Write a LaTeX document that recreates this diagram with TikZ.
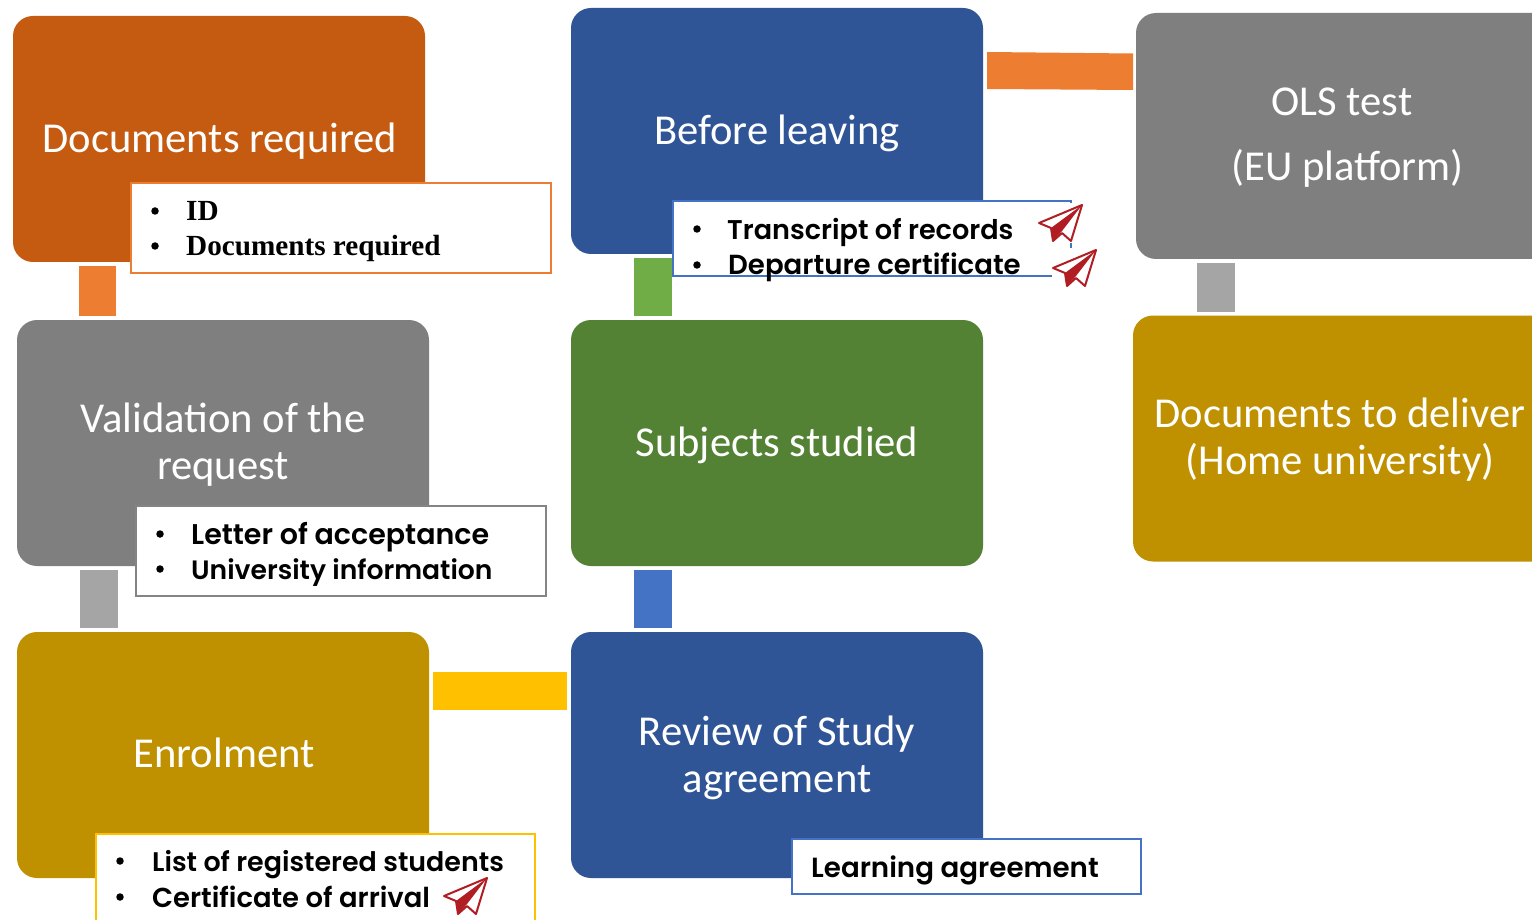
\documentclass[tikz,border=0pt]{standalone}
\usepackage{fontspec}
\setmainfont{Carlito}
\newfontfamily\boxgothic{Poppins SemiBold}
\newfontfamily\boxserif{Liberation Serif}
\definecolor{cblue}{HTML}{2F5597}
\definecolor{cgreen}{HTML}{548235}
\definecolor{cgrey}{HTML}{7F7F7F}
\definecolor{cgold}{HTML}{BF9000}
\definecolor{corange}{HTML}{C55A11}
\definecolor{borange}{HTML}{ED7D31}
\definecolor{bgrey}{HTML}{A5A5A5}
\definecolor{bgreen}{HTML}{70AD47}
\definecolor{bblue}{HTML}{4472C4}
\definecolor{byellow}{HTML}{FFC000}
\definecolor{planered}{HTML}{B01E23}
\tikzset{
 x=1pt,y=-1pt,
 bigbox/.style={rounded corners=20pt,minimum width=#1,minimum height=246pt,inner sep=0pt},
 bigbox/.default=412pt,
 bigtext/.style={text=white,align=center,inner sep=0pt,font=\fontsize{42.6}{47}\selectfont},
 widetext/.style={text=white,align=center,inner sep=0pt,font=\fontsize{42.6}{65}\selectfont},
 bar/.style={inner sep=0pt,fill=#1},
 notebox/.style={draw=#1,fill=white,line width=2pt,inner sep=0pt},
 notegothic/.style={anchor=base west,inner sep=0pt,font=\boxgothic\fontsize{#1}{#1}\selectfont},
 noteserif/.style={anchor=base west,inner sep=0pt,font=\boxserif\bfseries\fontsize{29.2}{29}\selectfont},
 plane/.pic={
  \fill[white] (-44,-2) rectangle (3,38);
  \draw[planered,line width=2pt,line join=round,fill=white] (0,0) -- (-43,18) -- (-31,23) -- (-29,36) -- (-20,28) -- (-11,36) -- cycle;
  \fill[planered] (0,0) -- (-31,23) -- (-29,36) -- (-20,26) -- cycle;
 }
}
\newcommand{\bulletat}[2]{\node[inner sep=0pt,circle,fill=black,minimum size=7.5pt] at (#1,#2) {};}
\begin{document}
\begin{tikzpicture}
\useasboundingbox (0,0) rectangle (1532,920);
\clip (0,0) rectangle (1532,920);
\fill[white] (0,0) rectangle (1532,920);
% big boxes
\node[bigbox,fill=corange] (docs) at (219,139) {};
\node[bigbox,fill=cgrey] (valid) at (223,443) {};
\node[bigbox,fill=cgold] (enrol) at (223,755) {};
\node[bigbox,fill=cblue] (before) at (777,131) {};
\node[bigbox,fill=cgreen] (subj) at (777,443) {};
\node[bigbox,fill=cblue] (review) at (777,755) {};
\node[bigbox=430pt,fill=cgrey] (ols) at (1351,136) {};
\node[bigbox=430pt,fill=cgold] (deliver) at (1348,438.5) {};
\node[bigtext] (docst) at (220,141) {Documents required};
\node[bigtext] (validt) at (223,445) {Validation of the\\request};
\node[bigtext] (enrolt) at (224,753) {Enrolment};
\node[bigtext] (beforet) at (777,133) {Before leaving};
\node[bigtext] (subjt) at (777,445) {Subjects studied};
\node[bigtext] (reviewt) at (777,758) {Review of Study\\agreement};
\node[widetext] (olst) at (1342,138) {OLS test\\\hspace*{11pt}(EU platform)};
\node[bigtext] (delt) at (1340,440) {Documents to deliver\\(Home university)};
% bars
\node[bar=borange,minimum width=37pt,minimum height=50pt] (b1) at (97.5,291) {};
\node[bar=bgrey,minimum width=38pt,minimum height=58pt] (b2) at (99,599) {};
\node[bar=byellow,minimum width=134pt,minimum height=38pt] (b3) at (500,691) {};
\node[bar=bblue,minimum width=38pt,minimum height=58pt] (b4) at (653,599) {};
\node[bar=bgreen,minimum width=38pt,minimum height=58pt] (b5) at (653,287) {};
\fill[borange] (987,52) -- (1133,53.5) -- (1133,90) -- (987,89) -- cycle;
\node[bar=bgrey,minimum width=38pt,minimum height=49pt] (b7) at (1216,287.5) {};
% note boxes
\node[notebox=borange,minimum width=420pt,minimum height=90pt] (n1) at (341,228.5) {};
\bulletat{155}{211}\bulletat{155}{246}
\node[noteserif] (n1a) at (186,221) {ID};
\node[noteserif] (n1b) at (186,256) {Documents required};
\node[notebox=bgrey!80!black,minimum width=410pt,minimum height=90pt] (n2) at (341,551) {};
\bulletat{160}{534}\bulletat{160}{569}
\node[notegothic=28.5] (n2a) at (191,544) {Letter of acceptance};
\node[notegothic=26.6] (n2b) at (191,579) {University information};
\node[notebox=byellow,minimum width=439pt,minimum height=118pt] (n3) at (315.5,892.5) {};
\bulletat{120}{861}\bulletat{120}{897}
\node[notegothic=26.9] (n3a) at (152,871) {List of registered students};
\node[notegothic=27.4] (n3b) at (152,907) {Certificate of arrival};
\node[notebox=bblue,minimum width=349pt,minimum height=55pt] (n4) at (966.5,866) {};
\node[notegothic=27.7] (n4a) at (811,877) {Learning agreement};
\node[notebox=bblue,minimum width=398pt,minimum height=75pt] (n5) at (872,238.5) {};
\bulletat{697}{229}\bulletat{697}{265}
\node[notegothic=27.1] (n5a) at (727,240) {Transcript of records};
\node[notegothic=27.6] (n5b) at (728,275) {Departure certificate};
% planes
\pic at (1082,205) {plane};
\pic at (1096,250) {plane};
\pic at (487,878) {plane};
\end{tikzpicture}
\end{document}
